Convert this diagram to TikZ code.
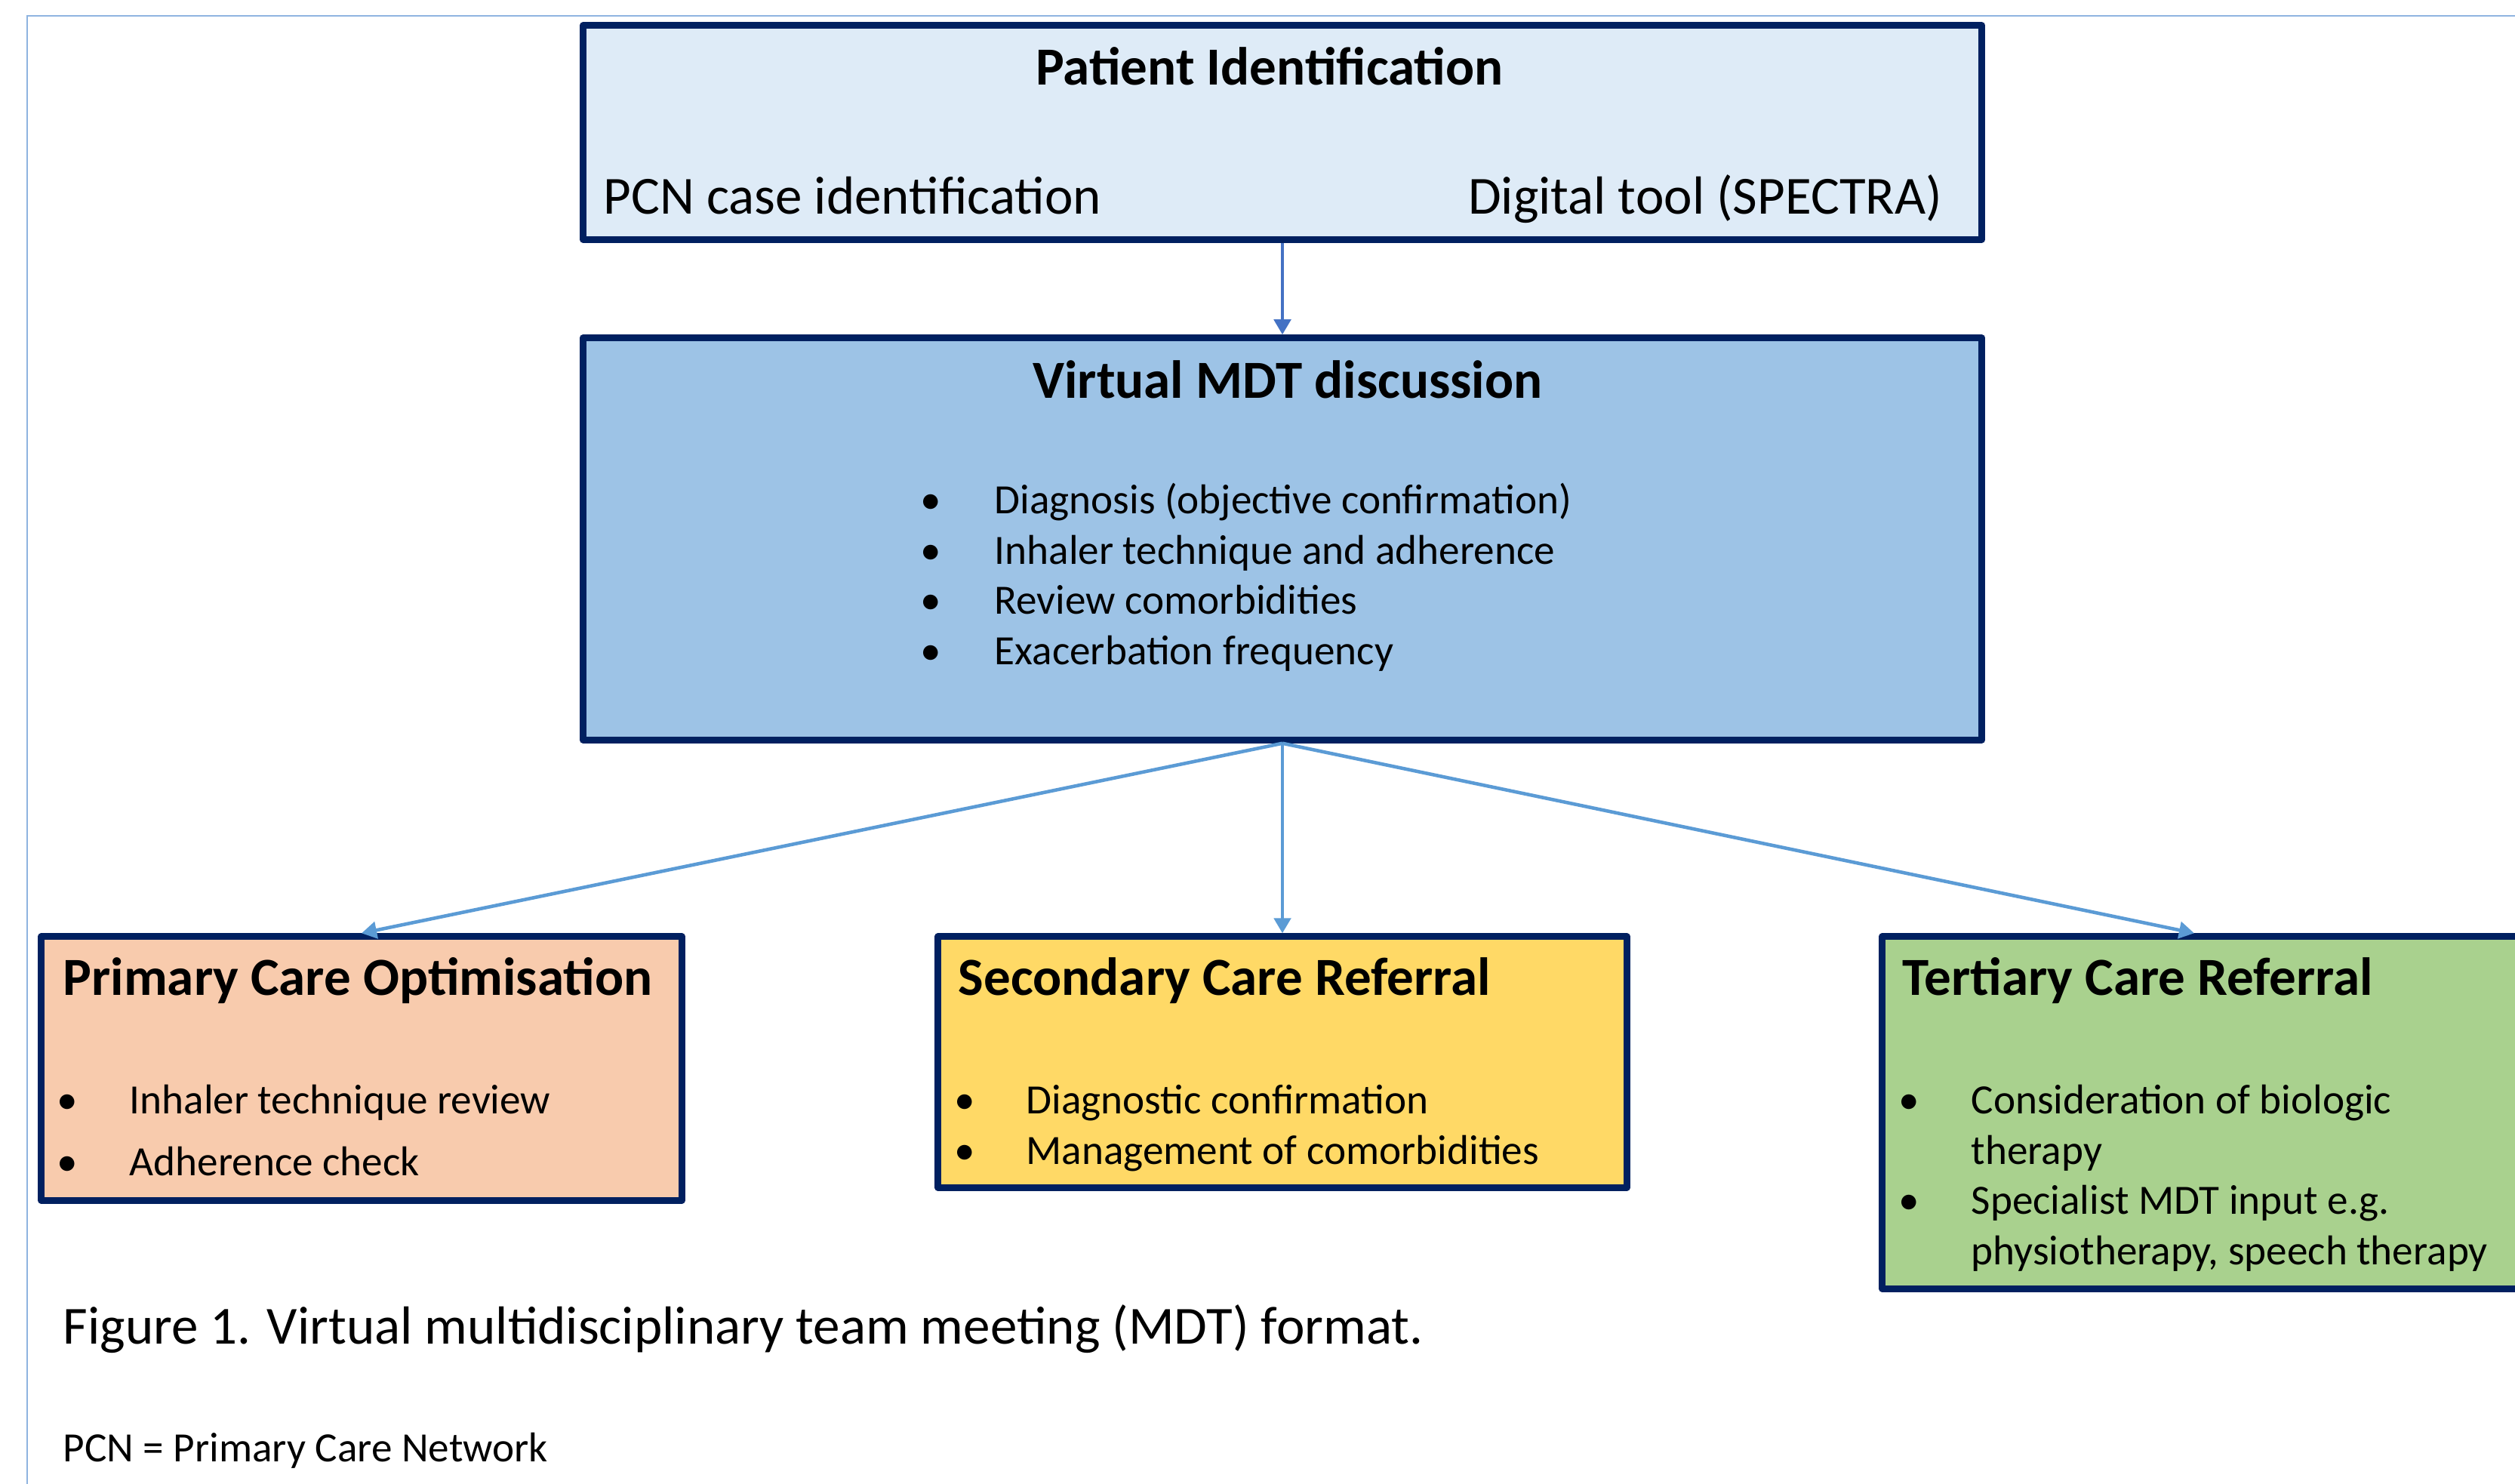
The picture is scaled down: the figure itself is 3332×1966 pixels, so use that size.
\documentclass[tikz,border=0pt]{standalone}
\usepackage{fontspec}
\setmainfont{Carlito}
\usetikzlibrary{arrows.meta}
\definecolor{navy}{HTML}{002060}
\definecolor{topfill}{HTML}{DEEBF7}
\definecolor{mdtfill}{HTML}{9DC3E6}
\definecolor{primfill}{HTML}{F8CBAD}
\definecolor{secfill}{HTML}{FFD966}
\definecolor{terfill}{HTML}{A9D18E}
\definecolor{arrowblue}{HTML}{5B9BD5}
\definecolor{darkarrow}{HTML}{4472C4}
\definecolor{framecol}{HTML}{8FB4E0}
\begin{document}
\begin{tikzpicture}[x=0.01cm,y=-0.01cm,
  box/.style={draw=navy,line width=2.6pt,line join=round,inner sep=0pt},
  ttl/.style={font=\fontsize{20.2}{24}\selectfont\bfseries,inner sep=0pt,anchor=base west},
  txt/.style={font=\fontsize{15.7}{19}\selectfont,inner sep=0pt,anchor=base west},
  bul/.style={font=\fontsize{15.7}{19}\selectfont,inner sep=0pt,anchor=base},
  big/.style={font=\fontsize{20.2}{24}\selectfont,inner sep=0pt,anchor=base west},
  conn/.style={draw=arrowblue,line width=1.3pt,-{Triangle[width=6.3pt,length=5.7pt]}}]
\useasboundingbox (0,0) rectangle (3332,1966);
\clip (0,0) rectangle (3332,1966);
\fill[white] (0,0) rectangle (3332,1966);
% outer frame
\draw[framecol,line width=0.7pt] (36,2000) -- (36,21) -- (3400,21);

% boxes
\node[box,fill=topfill,minimum width=18.52cm,minimum height=2.83cm] (top) at (1699,175.5) {};
\node[box,fill=mdtfill,minimum width=18.52cm,minimum height=5.32cm] (mdt) at (1699,714) {};
\node[box,fill=primfill,minimum width=8.48cm,minimum height=3.49cm] (left) at (479,1415.5) {};
\node[box,fill=secfill,minimum width=9.12cm,minimum height=3.32cm] (mid) at (1699,1407) {};
\node[box,fill=terfill,minimum width=8.66cm,minimum height=4.66cm] (right) at (2927,1474) {};

% top box text
\node[ttl,anchor=base] (t1) at (1682,112) {Patient Identification};
\node[big] (t2) at (799,283) {PCN case identification};
\node[big,anchor=base east] (t3) at (2574,283) {Digital tool (SPECTRA)};

% MDT text
\node[ttl,anchor=base] (m0) at (1706,527) {Virtual MDT discussion};
\node[bul] (mb1) at (1233,680) {•};
\node[txt] (m1) at (1317,680) {Diagnosis (objective confirmation)};
\node[bul] (mb2) at (1233,747) {•};
\node[txt] (m2) at (1317,747) {Inhaler technique and adherence};
\node[bul] (mb3) at (1233,813) {•};
\node[txt] (m3) at (1317,813) {Review comorbidities};
\node[bul] (mb4) at (1233,880) {•};
\node[txt] (m4) at (1317,880) {Exacerbation frequency};

% primary
\node[ttl] (p0) at (83,1318) {Primary Care Optimisation};
\node[bul] (pb1) at (89,1475) {•};
\node[txt] (p1) at (171,1475) {Inhaler technique review};
\node[bul] (pb2) at (89,1557) {•};
\node[txt] (p2) at (171,1557) {Adherence check};

% secondary
\node[ttl] (s0) at (1269,1318) {Secondary Care Referral};
\node[bul] (sb1) at (1278,1475) {•};
\node[txt] (s1) at (1359,1475) {Diagnostic confirmation};
\node[bul] (sb2) at (1278,1542) {•};
\node[txt] (s2) at (1359,1542) {Management of comorbidities};

% tertiary
\node[ttl] (r0) at (2520,1318) {Tertiary Care Referral};
\node[bul] (rb1) at (2529,1475) {•};
\node[txt] (r1) at (2611,1475) {Consideration of biologic};
\node[txt] (r2) at (2611,1542) {therapy};
\node[bul] (rb2) at (2529,1608) {•};
\node[txt] (r3) at (2611,1608) {Specialist MDT input e.g.};
\node[txt] (r4) at (2611,1675) {physiotherapy, speech therapy};

% caption
\node[big] (cap) at (83,1780) {Figure 1. Virtual multidisciplinary team meeting (MDT) format.};
\node[txt] (note) at (83,1936) {PCN = Primary Care Network};

% connectors
\draw[conn,draw=darkarrow] (top.south) -- (mdt.north);
\draw[conn] (mdt.south) -- (left.north);
\draw[conn] (mdt.south) -- (mid.north);
\draw[conn] (mdt.south) -- ([xshift=-0.2cm]right.north);
\end{tikzpicture}
\end{document}
